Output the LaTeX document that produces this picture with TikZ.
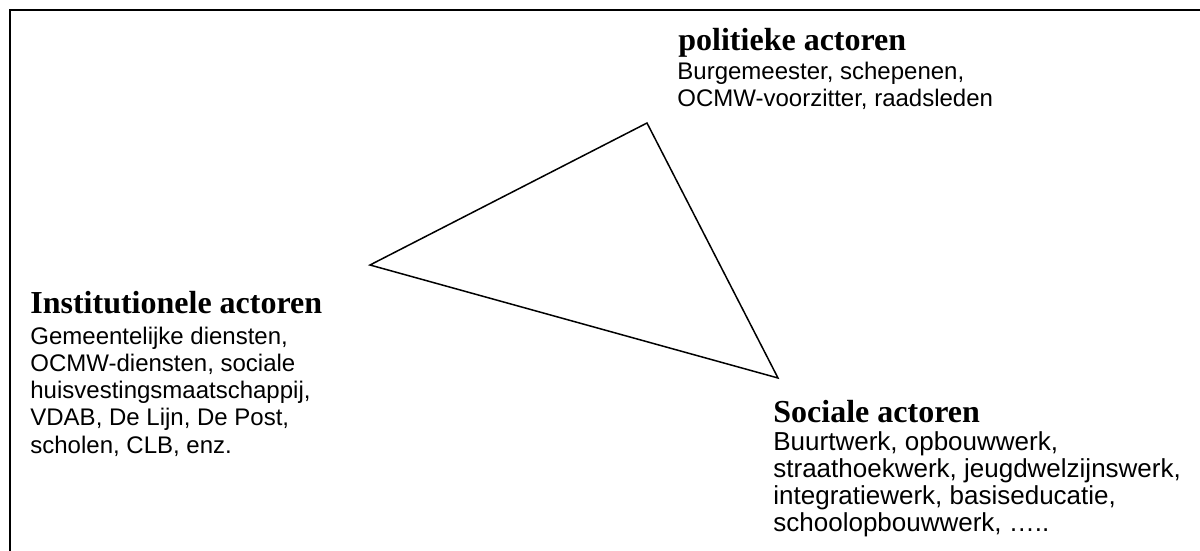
\documentclass[tikz,border=0pt]{standalone}
\usepackage{fontspec}
\setmainfont{Liberation Serif}
\setsansfont{Liberation Sans}
\usepackage{tikz}
\tikzset{actor/.style = {anchor = base west, inner sep = 0pt, font = \fontsize{16pt}{18pt}\selectfont\bfseries}}
\tikzset{members/.style = {anchor = base west, inner sep = 0pt, align = left, font = \fontsize{12pt}{13.6pt}\selectfont\sffamily}}
\tikzset{side/.style = {line width = 0.75pt, line join = miter}}

\begin{document}
\begin{tikzpicture}[x = 0.5pt, y = -0.5pt]
	\useasboundingbox (0, 0) rectangle (1200, 551);
	\clip (0, 0) rectangle (1200, 551);
	\draw[line width = 1pt] (9.5, 10) rectangle (1230, 580);

	\coordinate (pol) at (647, 123);
	\coordinate (inst) at (370, 265);
	\coordinate (soc) at (778, 378);

	\draw[side] (inst) -- (pol) -- (soc) -- cycle;

	% base = baseline of the last line
	\node[actor] (polhead) at (678, 51) {politieke actoren};
	\node[members] (poltext) at (677, 107) {Burgemeester, schepenen,\\OCMW-voorzitter, raadsleden};

	\node[actor] (insthead) at (30, 313) {Institutionele actoren};
	\node[members] (insttext) at (30, 453) {Gemeentelijke diensten,\\OCMW-diensten, sociale\\huisvestingsmaatschappij,\\VDAB, De Lijn, De Post,\\scholen, CLB, enz.};

	\node[actor] (sochead) at (773, 422) {Sociale actoren};
	\node[members, font = \fontsize{13pt}{13.4pt}\selectfont\sffamily] (soctext) at (773, 531) {Buurtwerk, opbouwwerk,\\straathoekwerk, jeugdwelzijnswerk,\\integratiewerk, basiseducatie,\\schoolopbouwwerk, …..};
\end{tikzpicture}
\end{document}
